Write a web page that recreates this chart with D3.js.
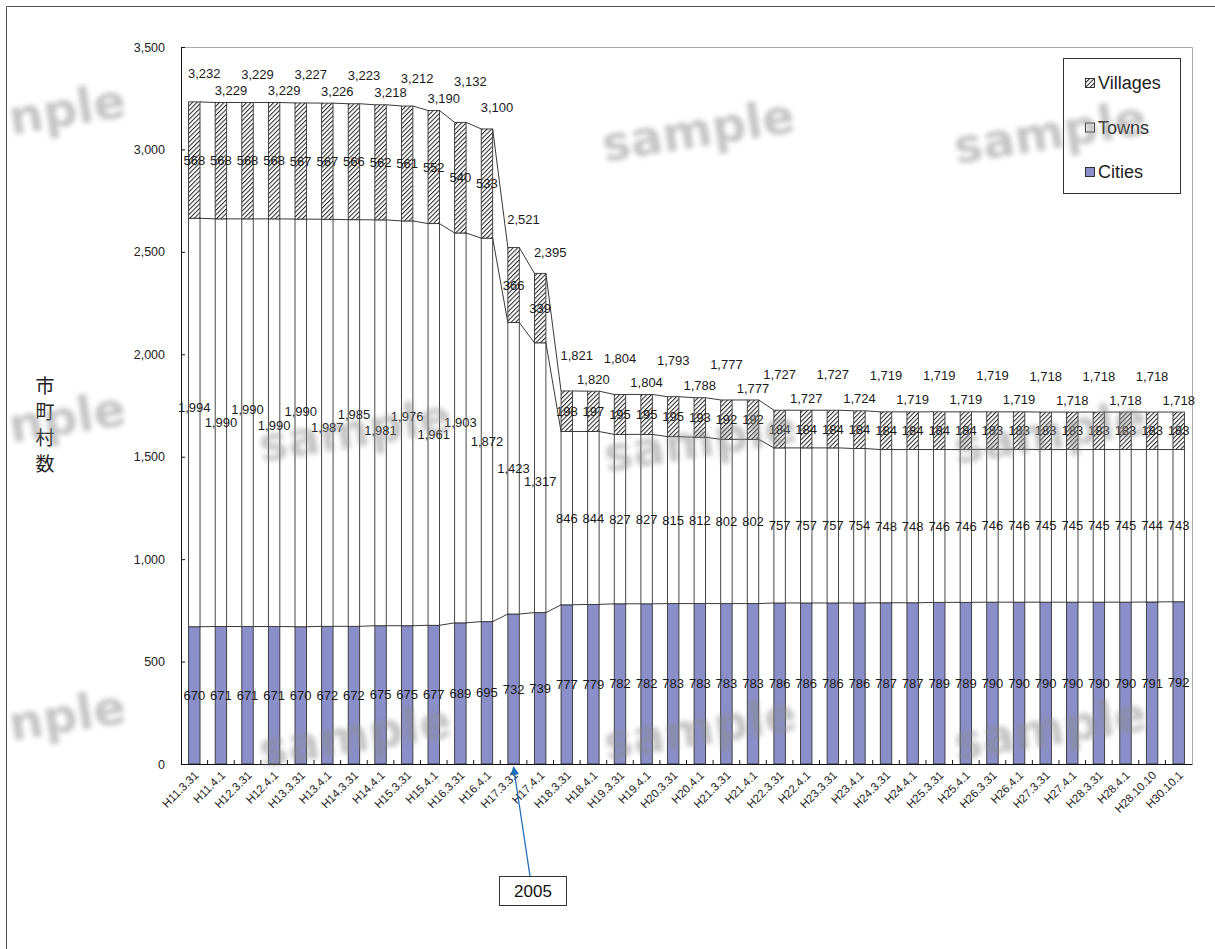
<!DOCTYPE html>
<html>
<head>
<meta charset="utf-8">
<script src="https://cdn.jsdelivr.net/npm/d3@7"></script>
<style>
  html, body { margin: 0; padding: 0; background: #fff; }
  svg { display: block; }
</style>
</head>
<body>
<script>
// Survey dates (Heisei era)
const dates = [
  "H11.3.31","H11.4.1","H12.3.31","H12.4.1","H13.3.31","H13.4.1","H14.3.31","H14.4.1",
  "H15.3.31","H15.4.1","H16.3.31","H16.4.1","H17.3.31","H17.4.1","H18.3.31","H18.4.1",
  "H19.3.31","H19.4.1","H20.3.31","H20.4.1","H21.3.31","H21.4.1","H22.3.31","H22.4.1",
  "H23.3.31","H23.4.1","H24.3.31","H24.4.1","H25.3.31","H25.4.1","H26.3.31","H26.4.1",
  "H27.3.31","H27.4.1","H28.3.31","H28.4.1","H28.10.10","H30.10.1"
];
const cities = [670,671,671,671,670,672,672,675,675,677,689,695,732,739,777,779,782,782,783,783,
  783,783,786,786,786,786,787,787,789,789,790,790,790,790,790,790,791,792];
const towns = [1994,1990,1990,1990,1990,1987,1985,1981,1976,1961,1903,1872,1423,1317,846,844,827,827,815,812,
  802,802,757,757,757,754,748,748,746,746,746,746,745,745,745,745,744,743];
const villages = [568,568,568,568,567,567,566,562,561,552,540,533,366,339,198,197,195,195,195,193,
  192,192,184,184,184,184,184,184,184,184,183,183,183,183,183,183,183,183];
const seriesNames = ["Cities","Towns","Villages"];
const yTicks = [0,500,1000,1500,2000,2500,3000,3500];
const yTitle = "市町村数";
const noteText = "2005";
const noteDate = "H17.3.31";
const watermark = "sample";
const watermarkEdge = "nple";

const W = 1215, H = 949;
const svg = d3.select("body").append("svg").attr("width", W).attr("height", H);
const defs = svg.append("defs");

// hatch fill for villages
const pat = defs.append("pattern").attr("id","hatch").attr("patternUnits","userSpaceOnUse")
  .attr("width",3.2).attr("height",3.2).attr("patternTransform","rotate(45)");
pat.append("rect").attr("width",3.2).attr("height",3.2).attr("fill","#fff");
pat.append("line").attr("x1",0.5).attr("y1",0).attr("x2",0.5).attr("y2",3.2)
  .attr("stroke","#222").attr("stroke-width",1);

const blur = defs.append("filter").attr("id","wmblur").attr("x","-20%").attr("y","-40%")
  .attr("width","140%").attr("height","180%");
blur.append("feGaussianBlur").attr("stdDeviation",2.8);

const marker = defs.append("marker").attr("id","arrow").attr("viewBox","0 0 10 10")
  .attr("refX",9).attr("refY",5).attr("markerWidth",9).attr("markerHeight",9)
  .attr("orient","auto-start-reverse").attr("markerUnits","userSpaceOnUse");
marker.append("path").attr("d","M0,0 L10,5 L0,10 z").attr("fill","#1f6fb8");

// outer frame
svg.append("path").attr("d",`M6.5,${H} V6.5 H${W}`).attr("fill","none").attr("stroke","#555").attr("stroke-width",1);

const plot = {left:181, right:1192, top:47, bottom:764};
const x = d3.scaleBand().domain(dates).range([plot.left, plot.right]).paddingInner(0.57).paddingOuter(0.285);
const y = d3.scaleLinear().domain([0,3500]).range([plot.bottom, plot.top]);
const bw = x.bandwidth();

// plot-area border (top/right)
svg.append("path").attr("d",`M${plot.left},${plot.top+0.5} H${plot.right+0.5} V${plot.bottom}`)
  .attr("fill","none").attr("stroke","#aaa").attr("stroke-width",1);

const rows = dates.map((d,i)=>({date:d, Cities:cities[i], Towns:towns[i], Villages:villages[i]}));
const stacked = d3.stack().keys(seriesNames)(rows);
const fills = {Cities:"#8b8fc9", Towns:"#ffffff", Villages:"url(#hatch)"};

// series lines joining segment tops of neighbouring bars
const lineG = svg.append("g").attr("stroke","#222").attr("stroke-width",0.9).attr("fill","none");
stacked.forEach(s=>{
  for (let i=0;i<s.length-1;i++){
    lineG.append("line")
      .attr("x1", x(dates[i])+bw).attr("y1", y(s[i][1]))
      .attr("x2", x(dates[i+1])).attr("y2", y(s[i+1][1]));
  }
});

// bars
const barG = svg.append("g");
stacked.forEach(s=>{
  barG.append("g").selectAll("rect").data(s).join("rect")
    .attr("x",(d,i)=>x(dates[i]))
    .attr("y",d=>y(d[1]))
    .attr("width",bw)
    .attr("height",d=>y(d[0])-y(d[1]))
    .attr("fill",fills[s.key])
    .attr("stroke","#333").attr("stroke-width",0.9);
});

// y axis
const yAxis = d3.axisLeft(y).tickValues(yTicks).tickFormat(d3.format(",")).tickSize(-4).tickPadding(16);
const yg = svg.append("g").attr("transform",`translate(${plot.left},0)`).call(yAxis);
yg.select(".domain").attr("stroke","#111");
yg.selectAll(".tick line").attr("stroke","#111");
yg.selectAll("text").attr("font-family","Liberation Sans, Arial, sans-serif").attr("font-size",12.5).attr("fill","#222");

// x axis with ticks at category boundaries
const xAxis = d3.axisBottom(x).tickSize(0).tickPadding(0);
const xg = svg.append("g").attr("transform",`translate(0,${plot.bottom})`).call(xAxis);
xg.select(".domain").attr("stroke","#111");
xg.selectAll("text")
  .attr("font-family","Liberation Sans, Arial, sans-serif").attr("font-size",11.5).attr("fill","#222")
  .attr("text-anchor","end").attr("dy","0")
  .attr("transform","translate(5,12) rotate(-45)");
const step = x.step();
xg.append("g").selectAll("line").data(d3.range(1,dates.length)).join("line")
  .attr("x1",i=>plot.left+i*step).attr("x2",i=>plot.left+i*step)
  .attr("y1",0).attr("y2",-4).attr("stroke","#111");

// label placement: totals staggered above the bars, towns staggered within the segment
function totalLift(i){
  if (i === 10) return -41;            // clear of the neighbouring 3,190 label
  if (i === 11 || i === 13) return -21; // steep drop: keep off the series line
  if (i % 2 === 1) return -12;
  return i < 14 ? -28 : -36;
}
function totalNudge(i){
  return i <= 14 ? 10 : 0;             // early totals sit right of the bar, clear of the series line
}
function townsShift(i){
  if (i >= 12) return i === 13 ? 4 : 0;
  return i % 2 === 0 ? -15 + i : (i - 1) * 1.2;
}

// data labels
const lab = svg.append("g").attr("font-family","Liberation Sans, Arial, sans-serif")
  .attr("font-size",13).attr("fill","#1a1a1a").attr("text-anchor","middle");
const fmt = d3.format(",");
rows.forEach((r,i)=>{
  const cx = x(r.date)+bw/2;
  const c = stacked[0][i], t = stacked[1][i], v = stacked[2][i];
  lab.append("text").attr("x",cx).attr("y",y((c[0]+c[1])/2)).attr("dy","0.35em").text(fmt(r.Cities));
  lab.append("text").attr("x",cx).attr("y",y((t[0]+t[1])/2)+townsShift(i)).attr("dy","0.35em").text(fmt(r.Towns));
  lab.append("text").attr("x",cx).attr("y",y((v[0]+v[1])/2)).attr("dy","0.35em").text(fmt(r.Villages));
  const total = v[1];
  lab.append("text").attr("x",cx+totalNudge(i)).attr("y",y(total)+totalLift(i)).attr("dy","0.35em").text(fmt(total));
});

// y title, written vertically
const tt = svg.append("text").attr("font-family","Noto Sans CJK JP, sans-serif").attr("font-size",19)
  .attr("fill","#222").attr("text-anchor","middle");
Array.from(yTitle).forEach((ch,k)=>{
  tt.append("tspan").attr("x",45).attr("y",393+k*26).text(ch);
});

// legend
const leg = svg.append("g");
leg.append("rect").attr("x",1063.5).attr("y",58.5).attr("width",117).attr("height",135)
  .attr("fill","#fff").attr("stroke","#333");
seriesNames.slice().reverse().forEach((k,j)=>{
  const yy = 83 + j*44.5;
  leg.append("rect").attr("x",1085.5).attr("y",yy-4.5).attr("width",9).attr("height",9)
    .attr("fill",fills[k]).attr("stroke","#222").attr("stroke-width",0.9);
  leg.append("text").attr("x",1098).attr("y",yy).attr("dy","0.36em")
    .attr("font-family","Liberation Sans, Arial, sans-serif").attr("font-size",18).attr("fill","#222").text(k);
});

// note box with arrow to the 2005 bar
const nx = x(noteDate)+bw/2;
svg.append("line").attr("x1",530).attr("y1",876).attr("x2",nx).attr("y2",plot.bottom+3)
  .attr("stroke","#1f6fb8").attr("stroke-width",1.3).attr("marker-end","url(#arrow)");
svg.append("rect").attr("x",499.5).attr("y",876.5).attr("width",67).attr("height",29)
  .attr("fill","#fff").attr("stroke","#333");
svg.append("text").attr("x",533).attr("y",891).attr("dy","0.36em").attr("text-anchor","middle")
  .attr("font-family","Liberation Sans, Arial, sans-serif").attr("font-size",17).attr("fill","#111").text(noteText);

// watermark
const wmPos = [[698,130],[1050,132],[355,430],[700,440],[1050,432],[355,735],[700,728],[1050,728]];
const wmEdge = [[9,118],[9,426],[9,724]];
const wm = svg.append("g").attr("filter","url(#wmblur)").attr("opacity",0.5)
  .attr("font-family","DejaVu Sans, sans-serif").attr("font-weight","bold").attr("font-size",48).attr("fill","#8a8a8a");
wmPos.forEach(([px,py])=>{
  wm.append("text").attr("transform",`translate(${px},${py}) rotate(-9)`)
    .attr("text-anchor","middle").attr("dy","0.35em").text(watermark);
});
wmEdge.forEach(([px,py])=>{
  wm.append("text").attr("transform",`translate(${px},${py}) rotate(-9)`)
    .attr("text-anchor","start").attr("dy","0.35em").text(watermarkEdge);
});
</script>
</body>
</html>
